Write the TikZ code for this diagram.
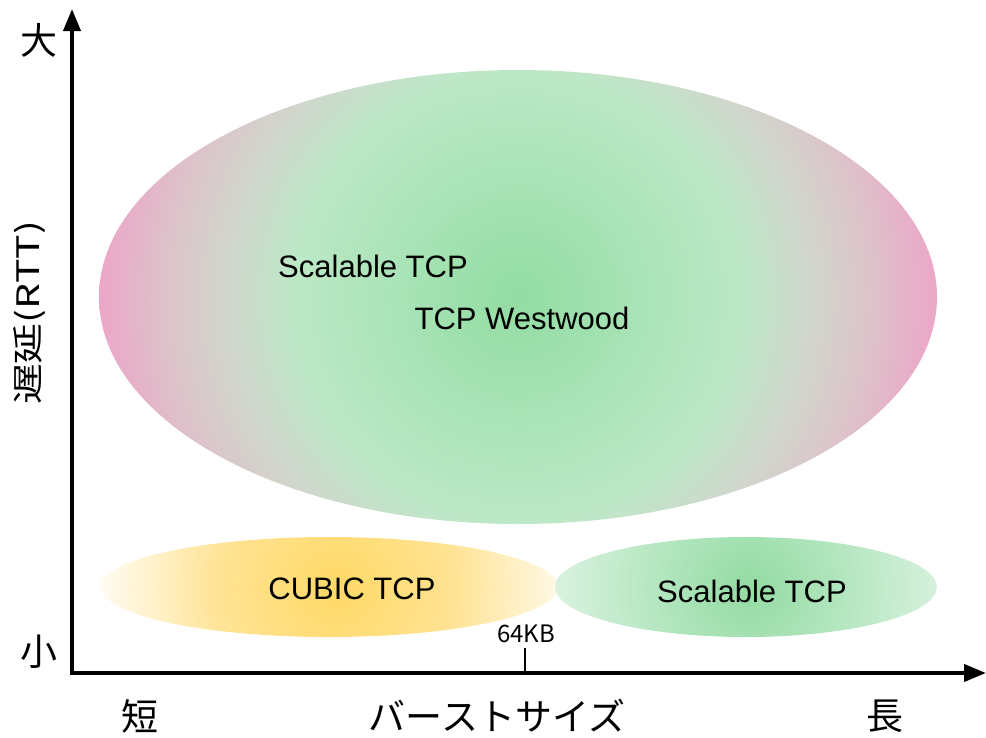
\documentclass[tikz,border=0pt]{standalone}
\usepackage{fontspec}
\setmainfont{Liberation Sans}
\newfontfamily\jpfont{Noto Sans CJK JP}
\usetikzlibrary{arrows.meta}

% colours of the three regions
\definecolor{bgA}{HTML}{92DCA2}
\definecolor{bgB}{HTML}{A8E3B6}
\definecolor{bgC}{HTML}{BDE8C7}
\definecolor{bgD}{HTML}{CFD8CC}
\definecolor{bgE}{HTML}{DDC3CA}
\definecolor{bgF}{HTML}{ECA6C8}
\definecolor{cuA}{HTML}{FFD966}
\definecolor{cuB}{HTML}{FFE394}
\definecolor{cuC}{HTML}{FFFCF4}
\definecolor{scA}{HTML}{93DBA3}
\definecolor{scB}{HTML}{B6E7C1}
\definecolor{scC}{HTML}{DBF2E0}

% radial shadings: 25bp is the rim of the shaded circle
\pgfdeclareradialshading{wideblob}{\pgfpoint{0bp}{0bp}}{%
  color(0bp)=(bgA); color(7bp)=(bgB); color(13.5bp)=(bgC);
  color(17bp)=(bgD); color(21bp)=(bgE); color(25bp)=(bgF); color(50bp)=(bgF)}
\pgfdeclareradialshading{cubicblob}{\pgfpoint{0bp}{0bp}}{%
  color(0bp)=(cuA); color(12.5bp)=(cuB); color(25bp)=(cuC); color(50bp)=(cuC)}
\pgfdeclareradialshading{scalblob}{\pgfpoint{0bp}{0bp}}{%
  color(0bp)=(scA); color(12.5bp)=(scB); color(25bp)=(scC); color(50bp)=(scC)}

\tikzset{
  lbl/.style={font=\fontsize{31}{36}\selectfont, inner sep=0pt},
  jplbl/.style={font=\jpfont\fontsize{37}{42}\selectfont, inner sep=0pt},
  vlbl/.style={font=\jpfont\fontsize{31}{36}\selectfont, inner sep=0pt, rotate=90},
  smalllbl/.style={font=\jpfont\fontsize{24}{28}\selectfont, inner sep=0pt},
  axisline/.style={line width=4pt, -{Triangle[length=22pt,width=17pt]}},
  tickline/.style={line width=2.2pt},
}

\begin{document}
\begin{tikzpicture}[x=1pt,y=-1pt]
\useasboundingbox (0,0) rectangle (986,737);

% large region
\begin{scope}
  \clip (518,297) ellipse [x radius=419, y radius=227];
  \shade[shading=wideblob] (518,297) circle [radius=419];
\end{scope}

% lower left region
\begin{scope}
  \clip (329,587) ellipse [x radius=229, y radius=50];
  \shade[shading=cubicblob] (337,587) circle [radius=238];
\end{scope}

% lower right region
\begin{scope}
  \clip (746,587) ellipse [x radius=191, y radius=50];
  \shade[shading=scalblob] (750,587) circle [radius=200];
\end{scope}

% labels inside the regions
\node[lbl] (scal1) at (373,266) {Scalable TCP};
\node[lbl] (westw) at (522,318) {TCP Westwood};
\node[lbl] (cubic) at (352,589) {CUBIC TCP};
\node[lbl] (scal2) at (752,591) {Scalable TCP};

% axes
\coordinate (origin) at (72,673);
\coordinate (xend) at (986,673);
\coordinate (yend) at (72,9);
\draw[axisline] ([xshift=-2pt]origin) -- (xend);
\draw[axisline] ([yshift=2pt]origin) -- (yend);

% tick at 64KB
\coordinate (tickbase) at (525,673);
\coordinate (ticktop) at (525,648);
\draw[tickline] (tickbase) -- (ticktop);
\node[smalllbl] (kb) at (526,634) {64KB};

% axis captions
\node[jplbl] (big) at (39,40) {大};
\node[jplbl] (small) at (39,652) {小};
\node[jplbl] (short) at (140,716) {短};
\node[jplbl] (long) at (885,716) {長};
\node[jplbl] (burst) at (497,716) {バーストサイズ};
\node[vlbl] (delay) at (30,313) {\scalebox{1.32}[1]{遅延(RTT)}};
\end{tikzpicture}
\end{document}
